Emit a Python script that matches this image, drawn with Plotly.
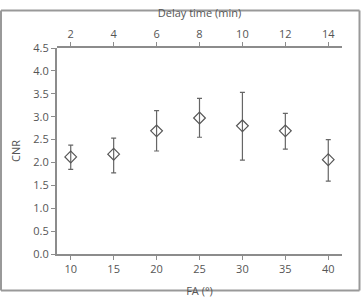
import plotly.graph_objects as go

fa = [10, 15, 20, 25, 30, 35, 40]
delay_ticks = [2, 4, 6, 8, 10, 12, 14]
cnr = [2.12, 2.18, 2.69, 2.97, 2.80, 2.69, 2.06]
err_hi = [2.38, 2.53, 3.13, 3.40, 3.53, 3.07, 2.50]
err_lo = [1.85, 1.77, 2.25, 2.55, 2.05, 2.29, 1.59]
y_ticks = [0.0, 0.5, 1.0, 1.5, 2.0, 2.5, 3.0, 3.5, 4.0, 4.5]

plus = [h - v for h, v in zip(err_hi, cnr)]
minus = [v - l for l, v in zip(err_lo, cnr)]

W, H = 361, 308
ml, mr, mt, mb = 57, 19, 42, 41
pw, ph = W - ml - mr, H - mt - mb

txt = "#555555"
line = "#8c8c8c"
font = dict(family="Open Sans, DejaVu Sans, sans-serif", size=11, color=txt)

fig = go.Figure()
fig.add_trace(go.Scatter(
    x=fa, y=cnr, mode="markers",
    marker=dict(symbol="diamond-open", size=9, color="#555555", line=dict(width=1.2)),
    error_y=dict(type="data", symmetric=False, array=plus, arrayminus=minus,
                 color="#666666", thickness=1.2, width=2.5),
    showlegend=False, hoverinfo="x+y",
))
# same points against the delay-time axis (invisible) in a hairline strip at the top
fig.add_trace(go.Scatter(x=delay_ticks, y=cnr, xaxis="x2", yaxis="y2", mode="markers",
                         marker=dict(opacity=0, size=1), showlegend=False,
                         hoverinfo="skip"))

fig.update_layout(
    width=W, height=H,
    margin=dict(l=ml, r=mr, t=mt, b=mb),
    paper_bgcolor="white", plot_bgcolor="white",
    font=font,
    xaxis=dict(domain=[0, 1], anchor="y", range=[8.4, 41.6], tickvals=fa,
               ticks="outside", ticklen=4,
               tickcolor=line, showline=True, linecolor=line, linewidth=1.5,
               mirror=False, showgrid=False, zeroline=False,
               title=dict(text="FA (°)", standoff=12, font=font)),
    yaxis=dict(domain=[0, 1], anchor="x", range=[0, 4.5], tickvals=y_ticks,
               tickformat=".1f", ticks="outside", ticklen=4, tickcolor=line,
               showline=True, linecolor=line, linewidth=2,
               mirror=False, showgrid=False, zeroline=False,
               title=dict(text="CNR", standoff=10, font=font)),
    xaxis2=dict(domain=[0, 1], anchor="y2", side="top", range=[1.36, 14.64],
                tickvals=delay_ticks, ticks="outside", ticklen=4,
                tickcolor=line, showline=True, linecolor=line, linewidth=1.5,
                mirror=False, showgrid=False, zeroline=False,
                title=dict(text="Delay time (min)", standoff=6, font=font)),
    yaxis2=dict(domain=[0.998, 1], anchor="x2", range=[0, 4.5], visible=False,
                showline=False, showgrid=False, zeroline=False),
)

bx0, bx1 = (-ml + 1) / pw, 1 + (mr - 1.5) / pw
by0, by1 = (-mb + 1) / ph, 1 + (mt - 1) / ph
for (x0, y0, x1, y1) in [(bx0, by0, bx0, by1), (bx1, by0, bx1, by1),
                         (bx0, by0, bx1, by0), (bx0, by1, bx1, by1)]:
    fig.add_shape(type="line", xref="paper", yref="paper",
                  x0=x0, y0=y0, x1=x1, y1=y1,
                  line=dict(color="#999999", width=2))

fig.write_html("out.html")
